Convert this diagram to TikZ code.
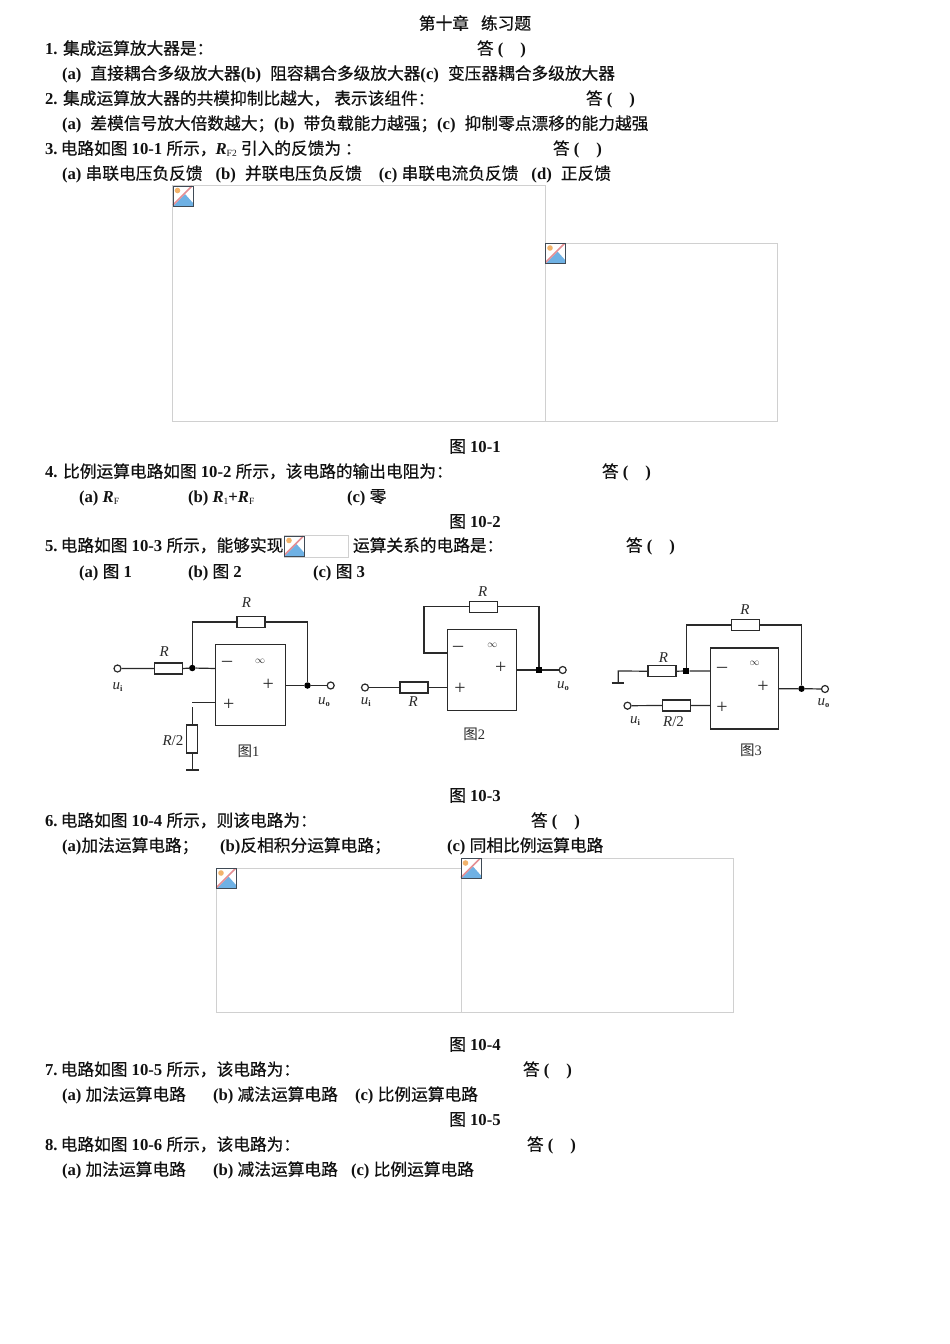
\documentclass[tikz,border=0pt]{standalone}
\usepackage{fontspec}
\setmainfont{Liberation Serif}
\newfontfamily\cjk[FakeBold=0.5]{Noto Sans CJK SC}
\newfontfamily\cjkplain{Noto Sans CJK SC}
\newcommand{\Z}[1]{{\cjk\mdseries #1}}
\newcommand{\Ans}{\Z{答} (\hspace{17pt})}
\newcommand{\Sb}[1]{{\fontsize{9.5}{10}\selectfont\mdseries\raisebox{-1.5pt}{#1}}}
\newcommand{\RR}{\textit{R}}
\newcommand{\Lab}[2]{\textit{#1}\raisebox{-2pt}{\fontsize{8.5}{9}\selectfont\bfseries #2}}
\definecolor{ink}{HTML}{111111}
\definecolor{wire}{HTML}{2A2A2A}
\definecolor{frame}{HTML}{D0D0D0}
\definecolor{iconedge}{HTML}{3F4A55}
\definecolor{sky}{HTML}{6FB1E4}
\definecolor{sunc}{HTML}{F2B36B}
\definecolor{slash}{HTML}{E48E94}
\tikzset{
  x=1pt,y=-1pt,
  qline/.style={anchor=base west,inner sep=0pt,outer sep=0pt,text=ink,font=\fontsize{16.7}{18}\selectfont\bfseries},
  qcenter/.style={anchor=base,inner sep=0pt,outer sep=0pt,text=ink,font=\fontsize{16.7}{18}\selectfont\bfseries},
  imgframe/.style={draw=frame,line width=0.8pt,fill=white},
  brokenicon/.pic={
    \fill[white] (0,0) rectangle (20,20);
    \fill[sky] (0,20) -- (12,8) -- (20,17) -- (20,20) -- cycle;
    \fill[sunc] (4.5,4.5) circle (2.8);
    \draw[slash,line width=1.6pt] (0,19) -- (19,0);
    \draw[iconedge,line width=0.9pt] (0,0) rectangle (20,20);
  },
  wireline/.style={draw=wire,line width=1.2pt},
  amp/.style={draw=wire,line width=1.2pt,rectangle,inner sep=0pt,outer sep=0pt},
  res/.style={draw=wire,line width=1.2pt,rectangle,inner sep=0pt,outer sep=0pt,minimum width=28pt,minimum height=11pt},
  vres/.style={res,minimum width=11pt,minimum height=28pt},
  term/.style={draw=wire,line width=1.2pt,circle,fill=white,inner sep=0pt,minimum size=7pt},
  jdot/.style={fill=black,circle,inner sep=0pt,minimum size=6.5pt},
  jsq/.style={fill=black,rectangle,inner sep=0pt,minimum size=6pt},
  clab/.style={inner sep=0pt,text=wire,font=\fontsize{15}{16}\selectfont},
  csym/.style={inner sep=0pt,text=wire,font=\fontsize{20}{20}\selectfont},
  cinf/.style={inner sep=0pt,text=wire,font=\fontsize{10}{11}\selectfont\bfseries},
  cfig/.style={inner sep=0pt,text=wire,font=\fontsize{14.5}{15}\selectfont},
}
\begin{document}
\begin{tikzpicture}
\useasboundingbox[fill=white] (0,0) rectangle (950,1344);

% image placeholders
\draw[imgframe] (172.5,185.5) rectangle (545,421.5);
\draw[imgframe] (545,243.5) rectangle (777.5,421.5);
\draw[imgframe] (216.5,868) rectangle (461,1012.5);
\draw[imgframe] (461,858) rectangle (733.5,1012.5);
\draw[imgframe] (284.5,535.5) rectangle (348.5,557.5);
\pic at (173,186) {brokenicon};
\pic at (545.5,243.5) {brokenicon};
\pic at (216.5,868.5) {brokenicon};
\pic at (461,858.5) {brokenicon};
\pic at (284.5,536) {brokenicon};

% text
\node[qcenter] (title) at (475,29.5) {\Z{第十章\hspace{12pt}练习题}};
\node[qline] (q1) at (45,54.5) {1. \Z{集成运算放大器是：}};
\node[qline] (a1) at (477,54.5) {\Ans};
\node[qline] (o1) at (62,79.5) {(a)\hspace{9pt}\Z{直接耦合多级放大器}(b)\hspace{9pt}\Z{阻容耦合多级放大器}(c)\hspace{9pt}\Z{变压器耦合多级放大器}};
\node[qline] (q2) at (45,104.5) {2. \Z{集成运算放大器的共模抑制比越大，\hspace{4pt}表示该组件：}};
\node[qline] (a2) at (586,104.5) {\Ans};
\node[qline] (o2) at (62,129.5) {(a)\hspace{9pt}\Z{差模信号放大倍数越大；}(b)\hspace{9pt}\Z{带负载能力越强；}(c)\hspace{9pt}\Z{抑制零点漂移的能力越强}};
\node[qline] (q3) at (45,154.5) {3.\hspace{3.2pt}\Z{电路如图} 10-1 \Z{所示，}\hspace{-1pt}\RR\Sb{F2} \Z{引入的反馈为 ：}};
\node[qline] (a3) at (553,154.5) {\Ans};
\node[qline] (o3) at (62,179.5) {(a) \Z{串联电压负反馈}\hspace{13pt}(b)\hspace{9pt}\Z{并联电压负反馈}\hspace{17pt}(c) \Z{串联电流负反馈}\hspace{13pt}(d)\hspace{9pt}\Z{正反馈}};
\node[qcenter] (f1) at (475,452.5) {\Z{图} 10-1};
\node[qline] (q4) at (45,477.5) {4. \Z{比例运算电路如图} 10-2 \Z{所示，该电路的输出电阻为：}};
\node[qline] (a4) at (602,477.5) {\Ans};
\node[qline] (o4a) at (79,502.5) {(a) \RR\Sb{F}};
\node[qline] (o4b) at (188,502.5) {(b) \RR\Sb{1}+\RR\Sb{F}};
\node[qline] (o4c) at (347,502.5) {(c) \Z{零}};
\node[qcenter] (f2) at (475,527.5) {\Z{图} 10-2};
\node[qline] (q5) at (45,551.5) {5.\hspace{3.2pt}\Z{电路如图} 10-3 \Z{所示，能够实现}};
\node[qline] (q5b) at (353,551.5) {\Z{运算关系的电路是：}};
\node[qline] (a5) at (626,551.5) {\Ans};
\node[qline] (o5a) at (79,577.5) {(a) \Z{图} 1};
\node[qline] (o5b) at (188,577.5) {(b) \Z{图} 2};
\node[qline] (o5c) at (313,577.5) {(c) \Z{图} 3};
\node[qcenter] (f3) at (475,801.5) {\Z{图} 10-3};
\node[qline] (q6) at (45,826.5) {6.\hspace{3.2pt}\Z{电路如图} 10-4 \Z{所示，则该电路为：}};
\node[qline] (a6) at (531,826.5) {\Ans};
\node[qline] (o6a) at (62,851.5) {(a)\Z{加法运算电路；}};
\node[qline] (o6b) at (220,851.5) {(b)\Z{反相积分运算电路；}};
\node[qline] (o6c) at (447,851.5) {(c) \Z{同相比例运算电路}};
\node[qcenter] (f4) at (475,1050.5) {\Z{图} 10-4};
\node[qline] (q7) at (45,1075.5) {7.\hspace{3.2pt}\Z{电路如图} 10-5 \Z{所示，该电路为：}};
\node[qline] (a7) at (523,1075.5) {\Ans};
\node[qline] (o7a) at (62,1100.5) {(a) \Z{加法运算电路}};
\node[qline] (o7b) at (213,1100.5) {(b) \Z{减法运算电路}};
\node[qline] (o7c) at (355,1100.5) {(c) \Z{比例运算电路}};
\node[qcenter] (f5) at (475,1125.5) {\Z{图} 10-5};
\node[qline] (q8) at (45,1150.5) {8.\hspace{3.2pt}\Z{电路如图} 10-6 \Z{所示，该电路为：}};
\node[qline] (a8) at (527,1150.5) {\Ans};
\node[qline] (o8a) at (62,1175.5) {(a) \Z{加法运算电路}};
\node[qline] (o8b) at (213,1175.5) {(b) \Z{减法运算电路}};
\node[qline] (o8c) at (351,1175.5) {(c) \Z{比例运算电路}};

% circuit 1
\node[amp,minimum width=69.6pt,minimum height=81pt] (A1) at (250.5,685) {};
\node[res] (A1Ri) at (168.5,668.5) {};
\node[res] (A1Rf) at (251,622) {};
\node[vres] (A1Rg) at (192.3,739) {};
\node[term] (A1in) at (117.5,668.5) {};
\node[term] (A1out) at (330.7,685.5) {};
\node[jdot] (A1j) at (192.3,668) {};
\node[jdot] (A1k) at (307.5,685.5) {};
\coordinate (A1minus) at (215.7,668.5);
\coordinate (A1plus) at (215.7,702.7);
\coordinate (A1outp) at (285.3,685.5);
\coordinate (A1t) at (192.3,702.7);
\coordinate (A1v) at (192.3,707);
\coordinate (A1g) at (192.3,770);
\coordinate (A1gl) at (186.3,770);
\coordinate (A1gr) at (198.7,770);
\draw[wireline] (A1in) -- (A1Ri.west) (A1Ri.east) -- (A1j) -- (A1minus);
\draw[wireline] (A1j) |- (A1Rf.west);
\draw[wireline] (A1Rf.east) -| (A1k);
\draw[wireline] (A1outp) -- (A1k) -- (A1out);
\draw[wireline] (A1plus) -- (A1t);
\draw[wireline] (A1v) -- (A1Rg.north);
\draw[wireline] (A1Rg.south) -- (A1g);
\draw[wireline] (A1gl) -- (A1gr);
\node[clab] (A1lf) at (246.5,603) {\textit{R}};
\node[clab] (A1li) at (164.3,652) {\textit{R}};
\node[clab] (A1lg) at (173,741) {\textit{R}/2};
\node[clab] (A1lu) at (117.5,687) {\Lab{u}{i}};
\node[clab] (A1lo) at (324,702) {\Lab{u}{o}};
\node[csym] (A1m) at (227,664) {–};
\node[csym] (A1p) at (228.7,705) {+};
\node[csym] (A1pp) at (268.3,684.5) {+};
\node[cinf] (A1inf) at (260,661) {$\infty$};
\node[cfig] (A1cap) at (248.5,751) {{\cjkplain 图}1};

% circuit 2
\node[amp,minimum width=68.6pt,minimum height=81.7pt] (A2) at (482,670) {};
\node[res] (A2Ri) at (414,687.5) {};
\node[res] (A2Rf) at (483.3,606.8) {};
\node[term] (A2in) at (365,687.5) {};
\node[term] (A2out) at (562.7,670) {};
\node[jsq] (A2k) at (539,670) {};
\coordinate (A2minus) at (447.7,653);
\coordinate (A2plus) at (447.7,687.5);
\coordinate (A2outp) at (516.3,670);
\coordinate (A2l) at (424,653);
\draw[wireline] (A2in) -- (A2Ri.west) (A2Ri.east) -- (A2plus);
\draw[wireline] (A2minus) -- (A2l) |- (A2Rf.west);
\draw[wireline] (A2Rf.east) -| (A2k);
\draw[wireline] (A2outp) -- (A2k) -- (A2out);
\node[clab] (A2lf) at (482.7,592) {\textit{R}};
\node[clab] (A2li) at (413.3,702) {\textit{R}};
\node[clab] (A2lu) at (365.7,702) {\Lab{u}{i}};
\node[clab] (A2lo) at (563,686.5) {\Lab{u}{o}};
\node[csym] (A2m) at (458,648.5) {–};
\node[csym] (A2p) at (460,689) {+};
\node[csym] (A2pp) at (500.7,668) {+};
\node[cinf] (A2inf) at (492.3,645.5) {$\infty$};
\node[cfig] (A2cap) at (474.3,734) {{\cjkplain 图}2};

% circuit 3
\node[amp,minimum width=68.4pt,minimum height=81pt] (A3) at (744.5,688.5) {};
\node[res] (A3Ri) at (662,671.2) {};
\node[res] (A3Rf) at (745.7,625) {};
\node[res] (A3Rp) at (676.2,705.5) {};
\node[term] (A3in) at (627.5,705.7) {};
\node[term] (A3out) at (825,689) {};
\node[jsq] (A3j) at (686.3,671) {};
\node[jdot] (A3k) at (801.5,688.7) {};
\coordinate (A3minus) at (710.3,671);
\coordinate (A3plus) at (710.3,705.5);
\coordinate (A3outp) at (778.7,688.7);
\coordinate (A3b) at (618.3,671);
\coordinate (A3g) at (618.3,683);
\coordinate (A3gl) at (611.7,683);
\coordinate (A3gr) at (624,683);
\draw[wireline] (A3gl) -- (A3gr);
\draw[wireline] (A3g) -- (A3b) -- (A3Ri.west);
\draw[wireline] (A3Ri.east) -- (A3j) -- (A3minus);
\draw[wireline] (A3j) |- (A3Rf.west);
\draw[wireline] (A3Rf.east) -| (A3k);
\draw[wireline] (A3outp) -- (A3k) -- (A3out);
\draw[wireline] (A3in) -- (A3Rp.west) (A3Rp.east) -- (A3plus);
\node[clab] (A3lf) at (745,610) {\textit{R}};
\node[clab] (A3li) at (663.5,658) {\textit{R}};
\node[clab] (A3lp) at (673.5,722) {\textit{R}/2};
\node[clab] (A3lu) at (635,721.5) {\Lab{u}{i}};
\node[clab] (A3lo) at (823.5,703.5) {\Lab{u}{o}};
\node[csym] (A3m) at (722,670) {–};
\node[csym] (A3p) at (722,707.5) {+};
\node[csym] (A3pp) at (763,686.5) {+};
\node[cinf] (A3inf) at (754.7,663.5) {$\infty$};
\node[cfig] (A3cap) at (751,750.5) {{\cjkplain 图}3};
\end{tikzpicture}
\end{document}
